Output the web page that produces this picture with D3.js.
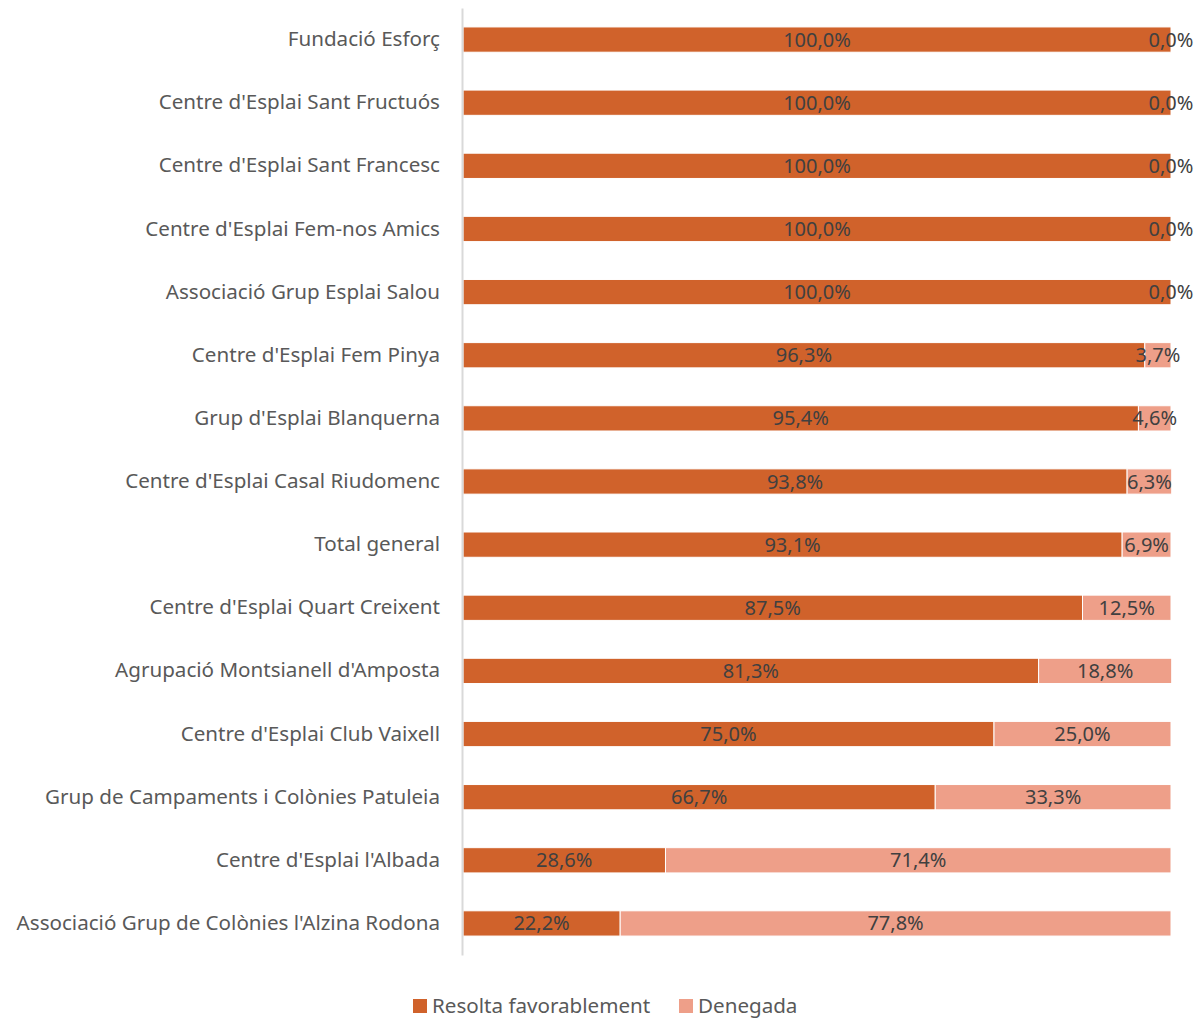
<!DOCTYPE html>
<html>
<head>
<meta charset="utf-8">
<script src="https://cdn.jsdelivr.net/npm/d3@7"></script>
<style>
  body { margin: 0; background: #fff; }
  svg { font-family: "Noto Sans", sans-serif; }
</style>
</head>
<body>
<svg width="1196" height="1018"></svg>
<script>
var categories = [
  "Fundació Esforç",
  "Centre d'Esplai Sant Fructuós",
  "Centre d'Esplai Sant Francesc",
  "Centre d'Esplai Fem-nos Amics",
  "Associació Grup Esplai Salou",
  "Centre d'Esplai Fem Pinya",
  "Grup d'Esplai Blanquerna",
  "Centre d'Esplai Casal Riudomenc",
  "Total general",
  "Centre d'Esplai Quart Creixent",
  "Agrupació Montsianell d'Amposta",
  "Centre d'Esplai Club Vaixell",
  "Grup de Campaments i Colònies Patuleia",
  "Centre d'Esplai l'Albada",
  "Associació Grup de Colònies l'Alzina Rodona"
];
var favorable = [100.0, 100.0, 100.0, 100.0, 100.0, 96.3, 95.4, 93.8, 93.1, 87.5, 81.3, 75.0, 66.7, 28.6, 22.2];
var denegada  = [0.0, 0.0, 0.0, 0.0, 0.0, 3.7, 4.6, 6.3, 6.9, 12.5, 18.8, 25.0, 33.3, 71.4, 77.8];
var seriesNames = ["Resolta favorablement", "Denegada"];
var colors = ["#D0622B", "#EE9F89"];

var svg = d3.select("svg"),
    margin = {top: 8, right: 25, bottom: 63, left: 463},
    width = +svg.attr("width") - margin.left - margin.right,
    height = +svg.attr("height") - margin.top - margin.bottom,
    g = svg.append("g").attr("transform", "translate(" + margin.left + "," + margin.top + ")");

var data = categories.map(function(c, i) {
  return {cat: c, fav: favorable[i], den: denegada[i]};
});

var x = d3.scaleLinear().domain([0, 100]).range([0, 708]);
var y = d3.scaleBand().domain(categories).range([0, height]).paddingInner(0.6).paddingOuter(0.3);

var stack = d3.stack().keys(["fav", "den"])(data);
var fmt = function(v) { return v.toFixed(1).replace(".", ",") + "%"; };

var layers = g.selectAll("g.layer")
  .data(stack)
  .enter().append("g")
    .attr("class", "layer")
    .attr("fill", function(d, i) { return colors[i]; });

layers.selectAll("rect")
  .data(function(d) { return d; })
  .enter().append("rect")
    .attr("x", function(d) { return x(d[0]); })
    .attr("y", function(d) { return y(d.data.cat); })
    .attr("width", function(d) { return x(d[1]) - x(d[0]); })
    .attr("height", y.bandwidth())
    .attr("stroke", "#fff")
    .attr("stroke-width", 1);

layers.selectAll("text")
  .data(function(d) { return d; })
  .enter().append("text")
    .attr("x", function(d) { return (x(d[0]) + x(d[1])) / 2; })
    .attr("y", function(d) { return y(d.data.cat) + y.bandwidth() / 2; })
    .attr("dy", "0.35em")
    .attr("text-anchor", "middle")
    .attr("fill", "#404040")
    .attr("font-size", 20)
    .text(function(d) { return fmt(d[1] - d[0]); });

// category axis
var yAxis = g.append("g")
  .attr("transform", "translate(-1,0)")
  .call(d3.axisLeft(y).tickSize(0).tickPadding(22));
yAxis.select(".domain").attr("stroke", "#d9d9d9").attr("stroke-width", 2);
yAxis.selectAll("text")
  .attr("font-size", 20.6)
  .attr("font-family", "Noto Sans, sans-serif")
  .attr("fill", "#595959");

// legend
var legend = svg.append("g")
  .attr("transform", "translate(413," + 999 + ")")
  .selectAll("g")
  .data(seriesNames)
  .enter().append("g")
    .attr("transform", function(d, i) { return "translate(" + (i * 266) + ",0)"; });

legend.append("rect")
  .attr("width", 14)
  .attr("height", 14)
  .attr("fill", function(d, i) { return colors[i]; });

legend.append("text")
  .attr("x", 19)
  .attr("y", 7)
  .attr("dy", "0.35em")
  .attr("font-size", 20.6)
  .attr("fill", "#595959")
  .text(function(d) { return d; });
</script>
</body>
</html>
